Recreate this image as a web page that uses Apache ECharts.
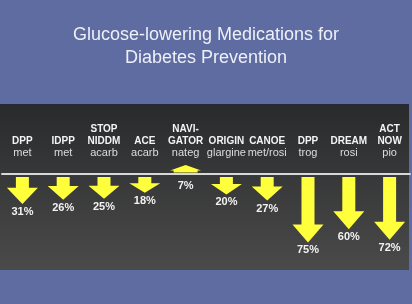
<!DOCTYPE html>
<html>
<head>
<meta charset="utf-8">
<script src="https://cdn.jsdelivr.net/npm/echarts@6/dist/echarts.min.js"></script>
<style>
html,body{margin:0;padding:0;background:#5e6ca2;}
#c{width:412px;height:304px;}
</style>
</head>
<body>
<div id="c"></div>
<script>
// Data
const studies = ['DPP', 'IDPP', 'STOP\nNIDDM', 'ACE', 'NAVI-\nGATOR', 'ORIGIN', 'CANOE', 'DPP', 'DREAM', 'ACT\nNOW'];
const drugs = ['met', 'met', 'acarb', 'acarb', 'nateg', 'glargine', 'met/rosi', 'trog', 'rosi', 'pio'];
// change in diabetes risk (%): negative = reduction (down arrow), positive = increase (up arrow)
const riskChange = [-31, -26, -25, -18, 7, -20, -27, -75, -60, -72];
const titleLines = ['Glucose-lowering Medications for', 'Diabetes Prevention'];

const categories = studies.map((s, i) => s + '\n' + drugs[i]);
const seriesData = riskChange.map((v, i) => [i, v]);

const chart = echarts.init(document.getElementById('c'), null, {renderer: 'canvas'});
const option = {
  backgroundColor: '#5e6ca2',
  animation: false,
  title: {
    text: titleLines.join('\n'),
    left: 'center',
    top: 24,
    padding: 0,
    textStyle: {
      color: '#eef0f7',
      fontFamily: 'Liberation Sans, Arial, sans-serif',
      fontSize: 18,
      fontWeight: 'normal',
      lineHeight: 23
    }
  },
  graphic: [{
    type: 'rect',
    z: -10,
    silent: true,
    shape: {x: 0, y: 104, width: 409, height: 166},
    style: {
      fill: new echarts.graphic.LinearGradient(0, 0, 0, 1, [
        {offset: 0, color: '#292a2c'},
        {offset: 1, color: '#4a4a4a'}
      ])
    }
  }, {
    type: 'rect',
    z: -9,
    silent: true,
    shape: {x: 0, y: 104, width: 409, height: 1},
    style: {fill: '#262b38'}
  }],
  grid: {left: 2, width: 408, top: 174, height: 96, containLabel: false, outerBoundsMode: 'none'},
  xAxis: {
    type: 'category',
    data: categories,
    position: 'top',
    axisLine: {show: true, onZero: false, lineStyle: {color: '#d8d8d8', width: 2}},
    axisTick: {show: false},
    splitLine: {show: false},
    axisLabel: {
      interval: 0,
      margin: 15,
      formatter: function (val) {
        const lines = val.split('\n');
        const drug = lines.pop();
        return lines.map(l => '{b|' + l + '}').join('\n') + '\n{n|' + drug + '}';
      },
      rich: {
        b: {color: '#f4f4f4', fontFamily: 'Liberation Sans, Arial, sans-serif', fontSize: 10, fontWeight: 'bold', lineHeight: 12, align: 'center'},
        n: {color: '#dcdcdc', fontFamily: 'Liberation Sans, Arial, sans-serif', fontSize: 11, fontWeight: 'normal', lineHeight: 12, align: 'center'}
      }
    }
  },
  yAxis: {
    type: 'value',
    min: -110,
    max: 0,
    show: false,
    splitLine: {show: false}
  },
  series: [{
    type: 'custom',
    clip: false,
    data: seriesData,
    encode: {x: 0, y: 1},
    renderItem: function (params, api) {
      const i = api.value(0);
      const v = api.value(1);
      const p0 = api.coord([i, 0]);
      const p1 = api.coord([i, v]);
      const down = v < 0;
      const dir = down ? 1 : -1;
      const gap = 3;
      const x = p0[0];
      const startY = down ? p0[1] + gap : p0[1] - 1.5;
      const tipY = p1[1] + dir * gap;
      const len = Math.abs(tipY - startY);
      const headLen = len < 12 ? len * 0.75 : Math.min(18, len * 0.6);
      const hw = 15.5;
      const sw = len < 12 ? 12 : 6.5;
      const neckY = tipY - dir * headLen;
      const pts = [
        [x - sw, startY], [x + sw, startY], [x + sw, neckY], [x + hw, neckY],
        [x, tipY], [x - hw, neckY], [x - sw, neckY]
      ];
      const labelY = down ? tipY + 8 : p0[1] + 12;
      return {
        type: 'group',
        children: [{
          type: 'polygon',
          shape: {points: pts},
          style: {fill: '#ffff3c'}
        }, {
          type: 'text',
          style: {
            text: Math.abs(v) + '%',
            x: x,
            y: labelY,
            align: 'center',
            verticalAlign: 'middle',
            fill: '#f2f2f2',
            font: 'bold 11px "Liberation Sans", Arial, sans-serif'
          }
        }]
      };
    }
  }]
};
chart.setOption(option);
</script>
</body>
</html>
